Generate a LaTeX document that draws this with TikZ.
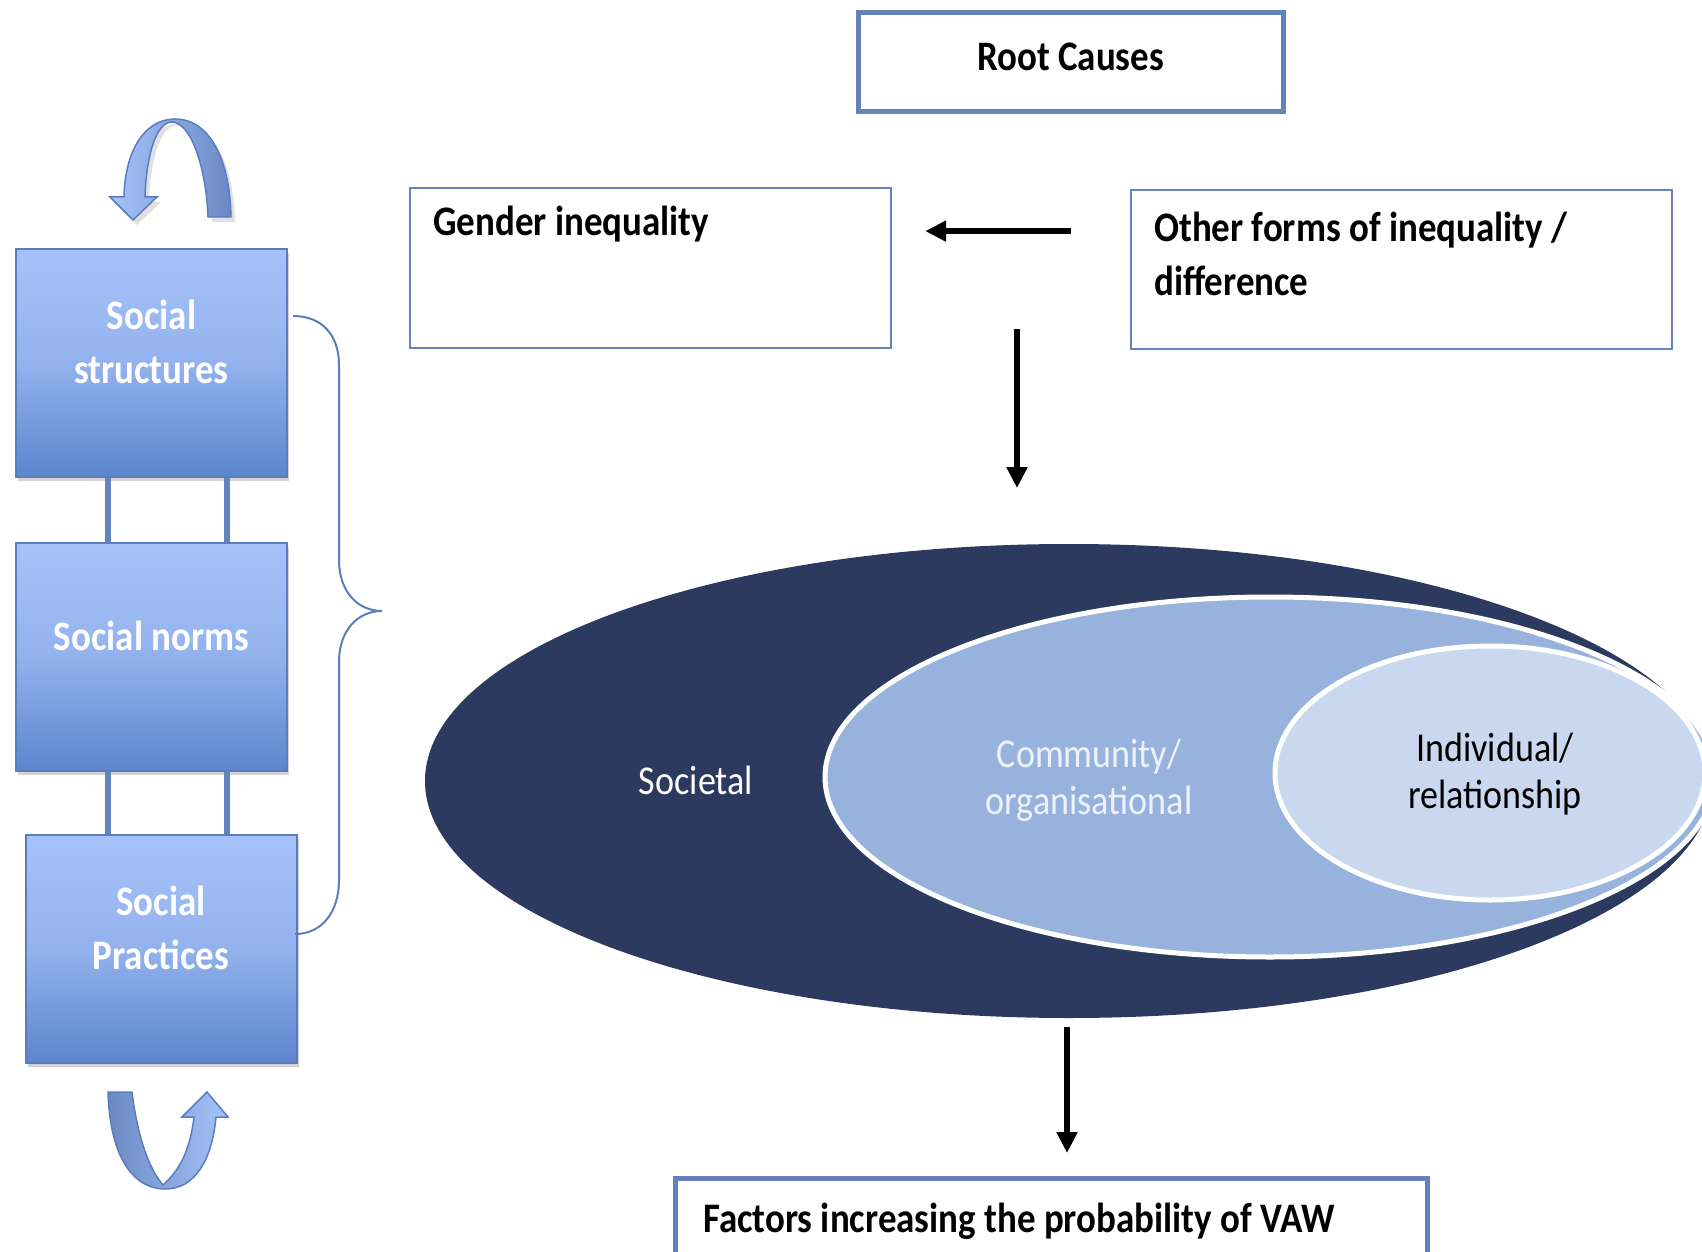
\documentclass[tikz,border=0pt]{standalone}
\usepackage{fontspec}
\setmainfont{Carlito}[FakeStretch=0.88]
\usetikzlibrary{arrows.meta,shapes.geometric,shadows}

\definecolor{navy}{HTML}{2B3A5E}
\definecolor{midblue}{HTML}{98B2DE}
\definecolor{paleblue}{HTML}{C9D8EF}
\definecolor{frame}{HTML}{6482BE}
\definecolor{boxtop}{HTML}{A6C2F9}
\definecolor{boxmid}{HTML}{93B2ED}
\definecolor{boxbot}{HTML}{5B86CE}
\definecolor{ribbon}{HTML}{5B7DBF}
\definecolor{ribdark}{HTML}{6B8AC4}
\definecolor{comtext}{HTML}{EDF2FA}

\tikzset{
  boldtext/.style={font=\fontsize{42}{54}\selectfont\bfseries, inner sep=0pt},
  plaintext/.style={font=\fontsize{41}{47}\selectfont, inner sep=0pt, align=center},
  framebox/.style={draw=frame, line width=5pt, inner sep=0pt},
  infobox/.style={draw=frame, line width=2.2pt, inner sep=0pt, anchor=north west},
  socbox/.style={draw=ribbon, line width=2pt, top color=boxtop, bottom color=boxbot, middle color=boxmid,
    minimum width=271pt, minimum height=228pt, inner sep=0pt,
    drop shadow={opacity=0.35, shadow xshift=2pt, shadow yshift=-4pt}},
  soctext/.style={boldtext, text=white, align=center},
  layer/.style={ellipse, inner sep=0pt},
  arr/.style={line width=6.5pt, -{Triangle[width=20pt,length=21pt]}},
  bar/.style={draw=frame, line width=6pt},
  twist/.style={draw=ribbon, line width=1.5pt}
}

\begin{document}
\begin{tikzpicture}[x=1pt,y=-1pt]
\useasboundingbox (0,0) rectangle (1702,1252);
\clip (0,0) rectangle (1702,1252);

% levels
\node[layer, fill=navy, minimum width=1288pt, minimum height=474pt] (soc) at (1069,781) {};
\node[layer, fill=midblue, draw=white, line width=5pt, minimum width=890pt, minimum height=360pt] (com) at (1270,777) {};
\node[layer, fill=paleblue, draw=white, line width=5pt, minimum width=430pt, minimum height=254pt] (ind) at (1490,773) {};
\node[plaintext, text=white] (soctxt) at (696,780) {Societal};
\node[plaintext, text=comtext] (comtxt) at (1089,780) {Community/\\organisational};
\node[plaintext] (indtxt) at (1495,774) {Individual/\\relationship};

% boxes on the right
\node[framebox, minimum width=425pt, minimum height=99pt, boldtext, text height=31pt, text depth=14pt] (root) at (1070.5,62.5) {Root Causes};
\node[infobox, minimum width=481pt, minimum height=160pt] (gender) at (409,187) {};
\node[boldtext, anchor=base west] (gendtxt) at (433,236) {Gender inequality};
\node[infobox, minimum width=541pt, minimum height=159pt] (other) at (1130,189) {};
\node[boldtext, anchor=base west, align=left] (othtxt) at (1154,295) {Other forms of inequality /\\difference};
\node[framebox, anchor=north west, minimum width=752pt, minimum height=120pt] (factors) at (673,1176) {};
\node[boldtext, anchor=base west] (factxt) at (703,1232) {Factors increasing the probability of VAW};

\draw[arr] ([xshift=-59pt,yshift=38.5pt]other.west) -- ([xshift=33pt,yshift=37pt]gender.east);
\coordinate (d1) at (1017,329);
\coordinate (d2) at (1017,488);
\draw[arr] (d1) -- (d2);
\draw[arr] ([xshift=-2pt,yshift=-9pt]soc.south) -- ([xshift=-2pt,yshift=23pt]soc.south |- factors.north);

% social column
\node[socbox] (sstruct) at (151.5,363) {};
\node[socbox] (snorm) at (151.5,656.5) {};
\node[socbox] (sprac) at (161,948.5) {};
\node[soctext] (ssttxt) at ([yshift=21pt]sstruct.center) {Social\\structures};
\node[soctext] (snotxt) at ([yshift=21pt]snorm.center) {Social norms};
\node[soctext] (sprtxt) at ([yshift=21pt]sprac.center) {Social\\Practices};
\foreach \dx in {-43.5,75} {
  \draw[bar] ([xshift=\dx pt]sstruct.south) -- ([xshift=\dx pt]snorm.north);
  \draw[bar] ([xshift=\dx pt]snorm.south) -- ([xshift=\dx pt]snorm.south |- sprac.north);
}

% brace
\draw[ribbon, line width=2pt] (293,316) .. controls (322,316) and (339,335) .. (339,365) -- (339,560)
  .. controls (339,592) and (358,611) .. (382,611) .. controls (358,611) and (339,630) .. (339,662)
  -- (339,880) .. controls (339,912) and (322,934) .. (295,934);

% turning arrows
\fill[black, opacity=0.12] (212,222) .. controls (210,165) and (194,126) .. (176,126) .. controls (160,126) and (150,162) .. (149,202)
  -- (161,202) -- (137,225) -- (114,202) -- (128,202) .. controls (129,155) and (149,124) .. (179,124)
  .. controls (214,124) and (234,165) .. (235,222) -- cycle;
\path[twist, left color=boxtop, right color=ribdark] (208,217) .. controls (206,165) and (190,122) .. (172,122)
  .. controls (155,122) and (146,160) .. (145,197) -- (157,197) -- (133,220) -- (110,197) -- (124,197)
  .. controls (125,150) and (145,119) .. (175,119) .. controls (210,119) and (230,160) .. (231,217) -- cycle;
\path[twist, left color=ribdark, right color=boxtop] (132,1092) .. controls (138,1140) and (150,1170) .. (163,1185)
  .. controls (180,1170) and (190,1150) .. (194,1117) -- (182,1117) -- (207,1092) -- (228,1117) -- (216,1117)
  .. controls (212,1160) and (195,1189) .. (165,1189) .. controls (135,1189) and (110,1160) .. (108,1092) -- cycle;
\end{tikzpicture}
\end{document}
